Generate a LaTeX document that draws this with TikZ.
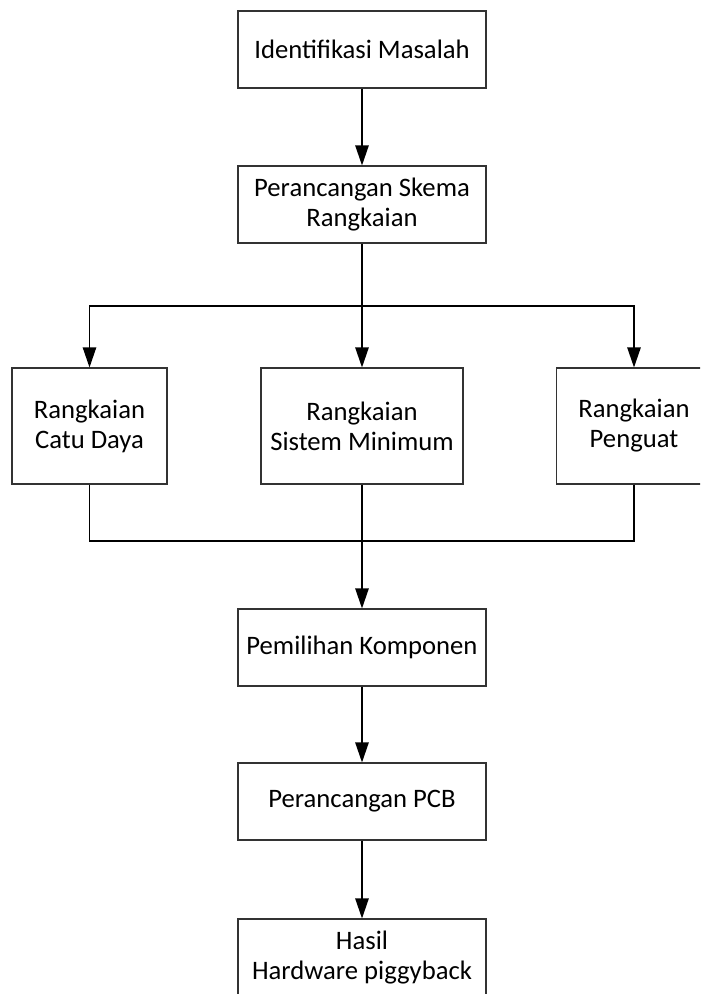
\documentclass[tikz,border=0pt]{standalone}
\usepackage{fontspec}
\setmainfont{Carlito}
\usetikzlibrary{arrows.meta}
\tikzstyle{step box}=[shape=rectangle,
                draw=black!80,
                line width=0.8pt,
                inner sep=1pt,
                minimum height=57.75pt,
                minimum width=186pt,
                align=center,
                font=\fontsize{20pt}{22.5pt}\selectfont]
\tikzstyle{sub box}=[step box,
                minimum height=87pt,
                minimum width=116.25pt]

\begin{document}
\begin{tikzpicture}[x=0.75pt,y=-0.75pt,>={Triangle[length=15pt,width=10pt]},line width=1.1pt]
\useasboundingbox (0,0) rectangle (700,994);
\clip (0,0) rectangle (700,994);

\node[step box] (s1) at (362,49.5)  {Identifikasi Masalah};
\node[step box] (s2) at (362,204.5) {Perancangan Skema\\Rangkaian};

\node[sub box] (s3) at (89.5,426) {Rangkaian\\Catu Daya};
\node[sub box,minimum width=151.5pt] (s4) at (362,426) {Rangkaian\\Sistem Minimum};
\node[sub box] (s5) at (634,426) {Rangkaian\\Penguat};

\node[step box] (s6) at (362,647.5) {Pemilihan Komponen};
\node[step box] (s7) at (362,801.5) {Perancangan PCB};
\node[step box] (s8) at (362,957.5) {Hasil\\Hardware piggyback};

\coordinate (c1) at (362,306);
\coordinate (c2) at (362,541);

\draw[->] (s1) -- (s2);
\draw[->] (s2) -- (s4);
\draw[->] (c1) -| (s3);
\draw[->] (c1) -| (s5);

\draw (s3) |- (c2);
\draw (s5) |- (c2);
\draw[->] (s4) -- (s6);

\draw[->] (s6) -- (s7);
\draw[->] (s7) -- (s8);
\end{tikzpicture}
\end{document}
